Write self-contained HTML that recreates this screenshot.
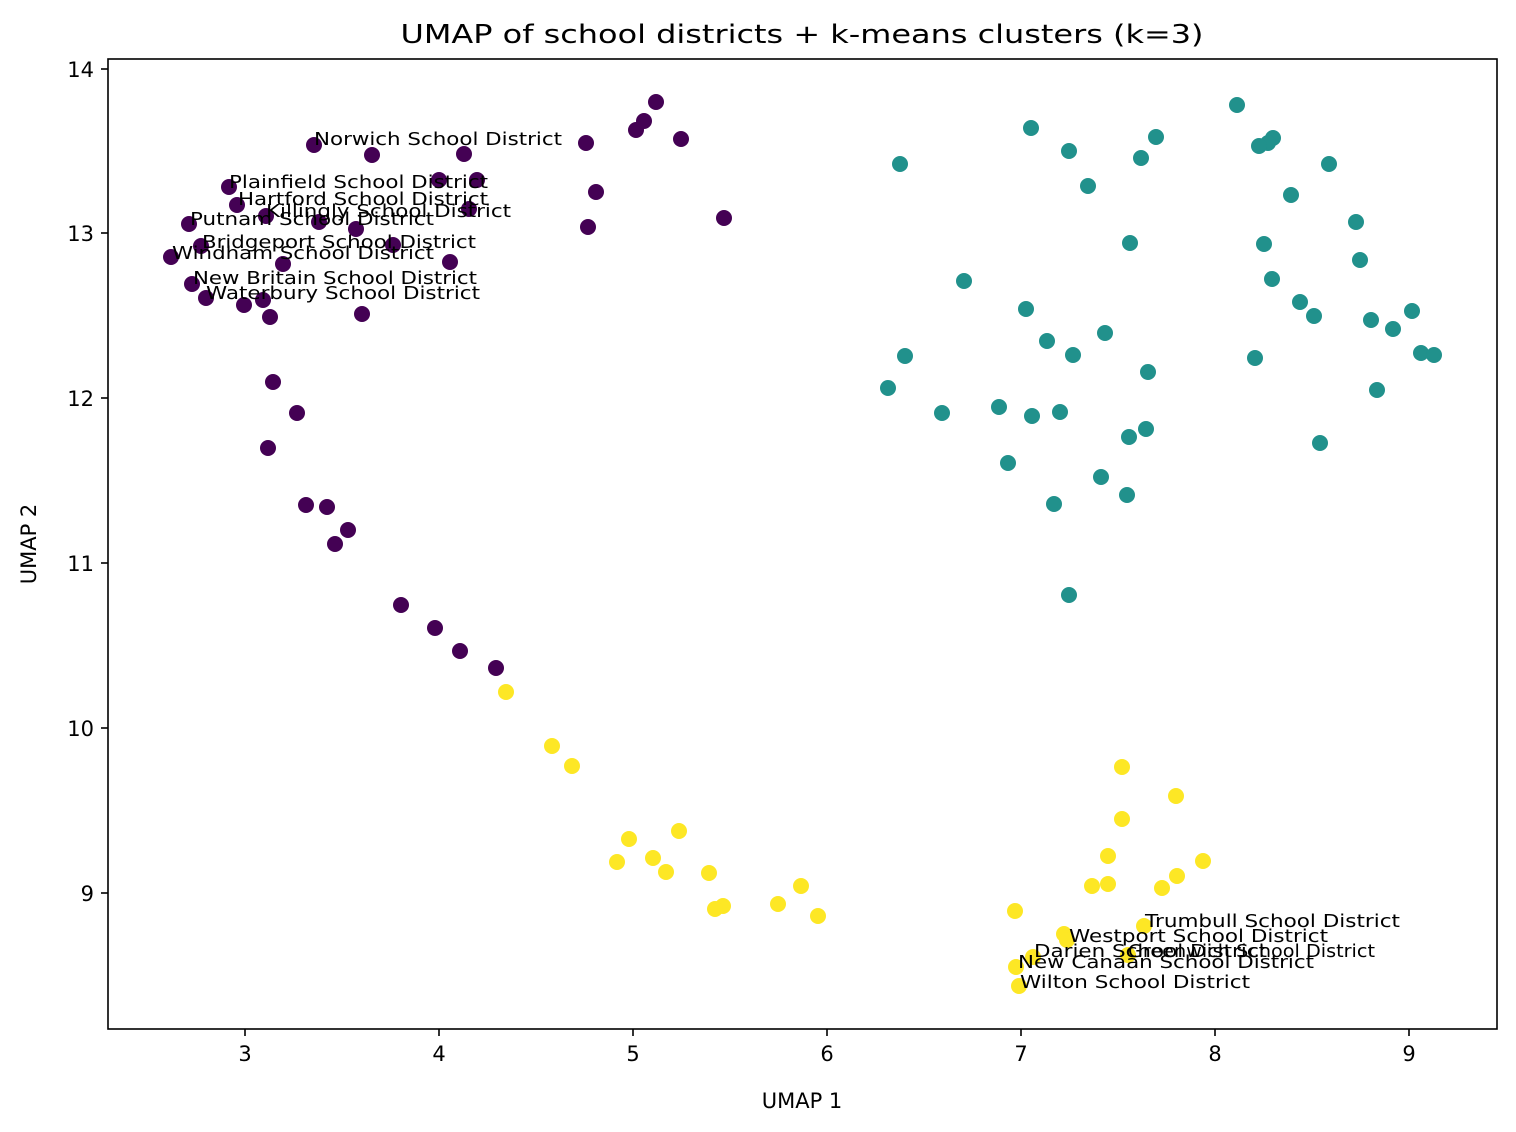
<!DOCTYPE html>
<html><head><meta charset="utf-8"><style>body{margin:0;background:#fff}svg{display:block}text{font-family:"DejaVu Sans","Liberation Sans",sans-serif;fill:#000}</style></head>
<body>
<svg width="1516" height="1132" viewBox="0 0 1516 1132" xmlns="http://www.w3.org/2000/svg">
<rect width="1516" height="1132" fill="#fff"/>
<text x="802" y="43" font-size="26" text-anchor="middle" textLength="803" lengthAdjust="spacingAndGlyphs">UMAP of school districts + k-means clusters (k=3)</text>
<g fill="#440154">
<circle cx="656" cy="102" r="8"/><circle cx="636" cy="130" r="8"/><circle cx="644" cy="121" r="8"/><circle cx="586" cy="143" r="8"/><circle cx="681" cy="139" r="8"/><circle cx="314" cy="145" r="8"/><circle cx="372" cy="155" r="8"/><circle cx="464" cy="154" r="8"/><circle cx="596" cy="192" r="8"/><circle cx="439" cy="180" r="8"/><circle cx="477" cy="180" r="8"/><circle cx="229" cy="187" r="8"/><circle cx="237" cy="205" r="8"/><circle cx="266" cy="216" r="8"/><circle cx="319" cy="222" r="8"/><circle cx="356" cy="229" r="8"/><circle cx="469" cy="209" r="8"/><circle cx="189" cy="224" r="8"/><circle cx="588" cy="227" r="8"/><circle cx="724" cy="218" r="8"/><circle cx="393" cy="245" r="8"/><circle cx="201" cy="246" r="8"/><circle cx="171" cy="257" r="8"/><circle cx="283" cy="264" r="8"/><circle cx="450" cy="262" r="8"/><circle cx="192" cy="284" r="8"/><circle cx="206" cy="298" r="8"/><circle cx="244" cy="305" r="8"/><circle cx="263" cy="300" r="8"/><circle cx="270" cy="317" r="8"/><circle cx="362" cy="314" r="8"/><circle cx="273" cy="382" r="8"/><circle cx="297" cy="413" r="8"/><circle cx="268" cy="448" r="8"/><circle cx="306" cy="505" r="8"/><circle cx="327" cy="507" r="8"/><circle cx="348" cy="530" r="8"/><circle cx="335" cy="544" r="8"/><circle cx="401" cy="605" r="8"/><circle cx="435" cy="628" r="8"/><circle cx="460" cy="651" r="8"/><circle cx="496" cy="668" r="8"/>
</g>
<g fill="#21918c">
<circle cx="1237" cy="105" r="8"/><circle cx="1031" cy="128" r="8"/><circle cx="1156" cy="137" r="8"/><circle cx="1273" cy="138" r="8"/><circle cx="1268" cy="143" r="8"/><circle cx="1259" cy="146" r="8"/><circle cx="1069" cy="151" r="8"/><circle cx="1329" cy="164" r="8"/><circle cx="900" cy="164" r="8"/><circle cx="1141" cy="158" r="8"/><circle cx="1088" cy="186" r="8"/><circle cx="1291" cy="195" r="8"/><circle cx="1356" cy="222" r="8"/><circle cx="1130" cy="243" r="8"/><circle cx="1264" cy="244" r="8"/><circle cx="1360" cy="260" r="8"/><circle cx="964" cy="281" r="8"/><circle cx="1272" cy="279" r="8"/><circle cx="1026" cy="309" r="8"/><circle cx="1300" cy="302" r="8"/><circle cx="1314" cy="316" r="8"/><circle cx="1412" cy="311" r="8"/><circle cx="1371" cy="320" r="8"/><circle cx="1393" cy="329" r="8"/><circle cx="1105" cy="333" r="8"/><circle cx="1047" cy="341" r="8"/><circle cx="1073" cy="355" r="8"/><circle cx="1421" cy="353" r="8"/><circle cx="1434" cy="355" r="8"/><circle cx="905" cy="356" r="8"/><circle cx="1255" cy="358" r="8"/><circle cx="1148" cy="372" r="8"/><circle cx="888" cy="388" r="8"/><circle cx="1377" cy="390" r="8"/><circle cx="999" cy="407" r="8"/><circle cx="942" cy="413" r="8"/><circle cx="1060" cy="412" r="8"/><circle cx="1032" cy="416" r="8"/><circle cx="1146" cy="429" r="8"/><circle cx="1129" cy="437" r="8"/><circle cx="1320" cy="443" r="8"/><circle cx="1008" cy="463" r="8"/><circle cx="1101" cy="477" r="8"/><circle cx="1127" cy="495" r="8"/><circle cx="1054" cy="504" r="8"/><circle cx="1069" cy="595" r="8"/>
</g>
<g fill="#fde725">
<circle cx="506" cy="692" r="8"/><circle cx="552" cy="746" r="8"/><circle cx="572" cy="766" r="8"/><circle cx="1122" cy="767" r="8"/><circle cx="1176" cy="796" r="8"/><circle cx="1122" cy="819" r="8"/><circle cx="679" cy="831" r="8"/><circle cx="629" cy="839" r="8"/><circle cx="617" cy="862" r="8"/><circle cx="653" cy="858" r="8"/><circle cx="1108" cy="856" r="8"/><circle cx="1203" cy="861" r="8"/><circle cx="666" cy="872" r="8"/><circle cx="709" cy="873" r="8"/><circle cx="801" cy="886" r="8"/><circle cx="1092" cy="886" r="8"/><circle cx="1108" cy="884" r="8"/><circle cx="1177" cy="876" r="8"/><circle cx="1162" cy="888" r="8"/><circle cx="778" cy="904" r="8"/><circle cx="723" cy="906" r="8"/><circle cx="715" cy="909" r="8"/><circle cx="818" cy="916" r="8"/><circle cx="1015" cy="911" r="8"/><circle cx="1144" cy="926" r="8"/><circle cx="1064" cy="934" r="8"/><circle cx="1067" cy="940" r="8"/><circle cx="1033" cy="957" r="8"/><circle cx="1128" cy="955" r="8"/><circle cx="1016" cy="967" r="8"/><circle cx="1019" cy="986" r="8"/>
</g>
<g font-size="17.5" lengthAdjust="spacingAndGlyphs">
<text x="314" y="145" textLength="248" lengthAdjust="spacingAndGlyphs">Norwich School District</text>
<text x="229" y="188" textLength="259" lengthAdjust="spacingAndGlyphs">Plainfield School District</text>
<text x="238" y="205" textLength="250" lengthAdjust="spacingAndGlyphs">Hartford School District</text>
<text x="266" y="217" textLength="245" lengthAdjust="spacingAndGlyphs">Killingly School District</text>
<text x="190" y="225" textLength="244" lengthAdjust="spacingAndGlyphs">Putnam School District</text>
<text x="202" y="248" textLength="274" lengthAdjust="spacingAndGlyphs">Bridgeport School District</text>
<text x="172" y="259" textLength="262" lengthAdjust="spacingAndGlyphs">Windham School District</text>
<text x="193" y="284" textLength="284" lengthAdjust="spacingAndGlyphs">New Britain School District</text>
<text x="206" y="299" textLength="274" lengthAdjust="spacingAndGlyphs">Waterbury School District</text>
<text x="1145" y="927" textLength="255" lengthAdjust="spacingAndGlyphs">Trumbull School District</text>
<text x="1069" y="942" textLength="259" lengthAdjust="spacingAndGlyphs">Westport School District</text>
<text x="1034" y="957" textLength="233" lengthAdjust="spacingAndGlyphs">Darien School District</text>
<text x="1128" y="957" textLength="247" lengthAdjust="spacingAndGlyphs">Greenwich School District</text>
<text x="1018" y="968" textLength="296" lengthAdjust="spacingAndGlyphs">New Canaan School District</text>
<text x="1020" y="988" textLength="230" lengthAdjust="spacingAndGlyphs">Wilton School District</text>
</g>
<rect x="108" y="59" width="1389" height="970" fill="none" stroke="#000" stroke-width="1.6"/>
<g stroke="#000" stroke-width="1.6">
<line x1="245" y1="1029" x2="245" y2="1036"/><line x1="439" y1="1029" x2="439" y2="1036"/><line x1="633" y1="1029" x2="633" y2="1036"/><line x1="827" y1="1029" x2="827" y2="1036"/><line x1="1021" y1="1029" x2="1021" y2="1036"/><line x1="1215" y1="1029" x2="1215" y2="1036"/><line x1="1409" y1="1029" x2="1409" y2="1036"/>
<line x1="101" y1="69" x2="108" y2="69"/><line x1="101" y1="233" x2="108" y2="233"/><line x1="101" y1="398" x2="108" y2="398"/><line x1="101" y1="563" x2="108" y2="563"/><line x1="101" y1="728" x2="108" y2="728"/><line x1="101" y1="893" x2="108" y2="893"/>
</g>
<g font-size="21" text-anchor="middle">
<text x="245" y="1061">3</text><text x="439" y="1061">4</text><text x="633" y="1061">5</text><text x="827" y="1061">6</text><text x="1021" y="1061">7</text><text x="1215" y="1061">8</text><text x="1409" y="1061">9</text>
</g>
<g font-size="21" text-anchor="end">
<text x="94" y="77">14</text><text x="94" y="241">13</text><text x="94" y="406">12</text><text x="94" y="571">11</text><text x="94" y="736">10</text><text x="94" y="901">9</text>
</g>
<text x="802" y="1108" font-size="21" text-anchor="middle">UMAP 1</text>
<text x="0" y="0" font-size="21" text-anchor="middle" transform="translate(36,544) rotate(-90)">UMAP 2</text>
</svg>
</body></html>
